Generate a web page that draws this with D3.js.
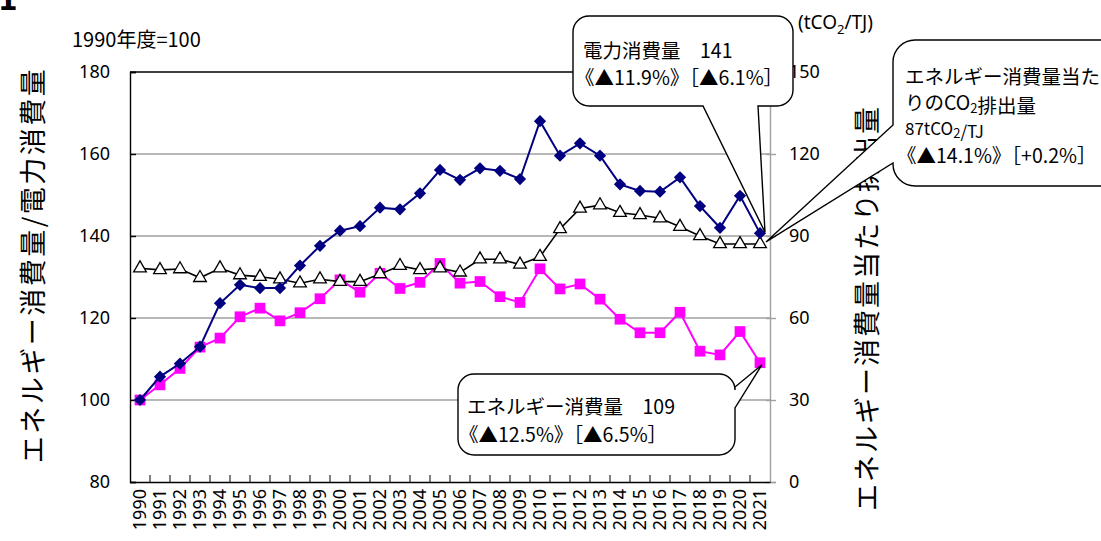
<!DOCTYPE html>
<html>
<head>
<meta charset="utf-8">
<script src="https://cdnjs.cloudflare.com/ajax/libs/d3/7.8.5/d3.min.js"></script>
<style>
  body { margin: 0; background: #fff; }
  svg { display: block; font-family: "Noto Sans CJK JP", "Noto Sans", sans-serif; }
</style>
</head>
<body>
<div id="chart-area"></div>
<script>
// chart values
var years = ["1990","1991","1992","1993","1994","1995","1996","1997","1998","1999",
             "2000","2001","2002","2003","2004","2005","2006","2007","2008","2009",
             "2010","2011","2012","2013","2014","2015","2016","2017","2018","2019",
             "2020","2021"];
var energy = [100, 103.7, 107.7, 112.9, 115.1, 120.3, 122.4, 119.3, 121.3, 124.7,
              129.3, 126.3, 130.9, 127.2, 128.7, 133.3, 128.5, 128.9, 125.2, 123.8,
              132.0, 127.1, 128.3, 124.6, 119.7, 116.4, 116.4, 121.4, 111.9, 111.0,
              116.7, 109.1];
var electricity = [100, 105.7, 108.9, 113.0, 123.6, 128.1, 127.3, 127.3, 132.8, 137.6,
                   141.3, 142.4, 146.9, 146.5, 150.4, 156.1, 153.7, 156.5, 155.9, 153.9,
                   168.0, 159.6, 162.6, 159.6, 152.6, 151.0, 150.8, 154.3, 147.3, 142.0,
                   149.8, 140.7];
var co2PerEnergy = [78.2, 77.6, 77.9, 74.7, 78.2, 75.7, 75.1, 74.2, 72.7, 74.2,
                    73.3, 73.3, 76.1, 79.1, 77.6, 78.2, 76.7, 81.5, 81.5, 79.6,
                    82.4, 92.6, 100.1, 101.3, 98.5, 97.7, 96.5, 93.4, 90.0, 87.1,
                    87.1, 87.1];
var leftTicks = [80, 100, 120, 140, 160, 180];
var rightTicks = [0, 30, 60, 90, 120, 150];

var width = 1101;
var height = 541;
var plotLeft = 130, plotRight = 770, plotTop = 72, plotBottom = 482;

var svg = d3.select("#chart-area")
    .append("svg")
    .attr("width", width)
    .attr("height", height);

var x = d3.scaleBand().domain(years).range([plotLeft, plotRight]);
var yL = d3.scaleLinear().domain([80, 180]).range([plotBottom, plotTop]);
var yR = d3.scaleLinear().domain([0, 150]).range([plotBottom, plotTop]);
var cx = function(i) { return x(years[i]) + x.bandwidth() / 2; };

// cut-off title fragment at the top-left corner
svg.append("text")
    .attr("x", -2).attr("y", 10)
    .style("font-family", "DejaVu Sans").style("font-weight", "bold")
    .style("font-size", "28px")
    .text("1");

// grid lines
svg.append("g").selectAll("line")
    .data(leftTicks.filter(function(d) { return d > 80 && d < 180; }))
    .enter().append("line")
    .attr("x1", plotLeft).attr("x2", plotRight)
    .attr("y1", function(d) { return yL(d); })
    .attr("y2", function(d) { return yL(d); })
    .attr("stroke", "#a0a0a0").attr("stroke-width", 1.4);

// top border
svg.append("line")
    .attr("x1", plotLeft).attr("x2", plotRight)
    .attr("y1", yL(180)).attr("y2", yL(180))
    .attr("stroke", "#000").attr("stroke-width", 1.4);

// right axis (gray)
var rAxis = svg.append("g")
    .attr("transform", "translate(" + plotRight + ",0)")
    .call(d3.axisRight(yR).tickValues(rightTicks).tickSize(6).tickPadding(13));
rAxis.select(".domain").attr("stroke", "#a0a0a0").attr("stroke-width", 1.4);
rAxis.selectAll(".tick line").attr("stroke", "#a0a0a0").attr("stroke-width", 1.4).attr("x1", -4);
rAxis.selectAll("text").style("font-size", "18px").style("font-family", "Noto Sans").attr("fill", "#000");

// left axis
var lAxis = svg.append("g")
    .attr("transform", "translate(" + plotLeft + ",0)")
    .call(d3.axisLeft(yL).tickValues(leftTicks).tickSize(-6).tickPadding(20));
lAxis.select(".domain").attr("stroke", "#000").attr("stroke-width", 1.4);
lAxis.selectAll(".tick line").attr("stroke", "#000").attr("stroke-width", 1.4);
lAxis.selectAll("text").style("font-size", "18px").style("font-family", "Noto Sans").attr("fill", "#000");

// bottom axis with ticks between categories
var bAxis = svg.append("g")
    .attr("transform", "translate(0," + plotBottom + ")")
    .call(d3.axisBottom(x).tickSize(0).tickPadding(8));
bAxis.select(".domain").attr("stroke", "#000").attr("stroke-width", 1.4);
bAxis.selectAll("text")
    .style("font-size", "18px").style("font-family", "Noto Sans").attr("fill", "#000")
    .attr("transform", "rotate(-90)")
    .attr("text-anchor", "end")
    .attr("x", -7).attr("y", 0).attr("dy", "0.35em");
svg.append("g").selectAll("line")
    .data(years.slice(1))
    .enter().append("line")
    .attr("x1", function(d) { return x(d); })
    .attr("x2", function(d) { return x(d); })
    .attr("y1", plotBottom).attr("y2", plotBottom - 7)
    .attr("stroke", "#000").attr("stroke-width", 1);

// series
var lineL = d3.line().x(function(d, i) { return cx(i); }).y(function(d) { return yL(d); });
var lineR = d3.line().x(function(d, i) { return cx(i); }).y(function(d) { return yR(d); });

svg.append("path").datum(energy)
    .attr("d", lineL).attr("fill", "none").attr("stroke", "#ff00ff").attr("stroke-width", 2);
svg.append("g").selectAll("path").data(energy).enter().append("path")
    .attr("d", d3.symbol().type(d3.symbolSquare).size(115))
    .attr("transform", function(d, i) { return "translate(" + cx(i) + "," + yL(d) + ")"; })
    .attr("fill", "#ff00ff");

svg.append("path").datum(co2PerEnergy)
    .attr("d", lineR).attr("fill", "none").attr("stroke", "#000").attr("stroke-width", 1.6);
svg.append("g").selectAll("path").data(co2PerEnergy).enter().append("path")
    .attr("d", d3.symbol().type(d3.symbolTriangle).size(70))
    .attr("transform", function(d, i) { return "translate(" + cx(i) + "," + yR(d) + ")"; })
    .attr("fill", "#fff").attr("stroke", "#000").attr("stroke-width", 1.3);

svg.append("path").datum(electricity)
    .attr("d", lineL).attr("fill", "none").attr("stroke", "#000080").attr("stroke-width", 2);
svg.append("g").selectAll("path").data(electricity).enter().append("path")
    .attr("d", d3.symbol().type(d3.symbolSquare).size(75))
    .attr("transform", function(d, i) { return "translate(" + cx(i) + "," + yL(d) + ") rotate(45)"; })
    .attr("fill", "#000080");

// axis titles and units
svg.append("text")
    .attr("transform", "translate(31,265) rotate(-90)")
    .attr("text-anchor", "middle").attr("dominant-baseline", "central")
    .style("font-size", "27px").style("letter-spacing", "2.5px")
    .text("エネルギー消費量/電力消費量");
svg.append("text")
    .attr("transform", "translate(865,308) rotate(-90)")
    .attr("text-anchor", "middle").attr("dominant-baseline", "central")
    .style("font-size", "27px").style("letter-spacing", "2px")
    .text("エネルギー消費量当たり排出量");
svg.append("text")
    .attr("x", 72).attr("y", 47)
    .style("font-size", "20px")
    .text("1990年度=100");
var unit = svg.append("text")
    .attr("x", 798).attr("y", 29)
    .style("font-size", "19px").style("font-family", "Noto Sans");
unit.append("tspan").text("(tCO");
unit.append("tspan").attr("dy", 5).style("font-size", "13px").text("2");
unit.append("tspan").attr("dy", -5).text("/TJ)");

// callouts
function callout(bx, by, w, h, r, tail) {
    var p = "M" + (bx + r) + "," + by +
        "H" + (bx + w - r) + "A" + r + "," + r + " 0 0 1 " + (bx + w) + "," + (by + r);
    if (tail.side === "right") {
        p += "V" + tail.a + "L" + tail.tx + "," + tail.ty + "L" + (bx + w) + "," + tail.b;
    }
    p += "V" + (by + h - r) + "A" + r + "," + r + " 0 0 1 " + (bx + w - r) + "," + (by + h);
    if (tail.side === "bottom") {
        p += "H" + tail.b + "L" + tail.tx + "," + tail.ty + "L" + tail.a + "," + (by + h);
    }
    p += "H" + (bx + r) + "A" + r + "," + r + " 0 0 1 " + bx + "," + (by + h - r);
    if (tail.side === "left") {
        p += "V" + tail.b + "L" + tail.tx + "," + tail.ty + "L" + bx + "," + tail.a;
    }
    p += "V" + (by + r) + "A" + r + "," + r + " 0 0 1 " + (bx + r) + "," + by + "Z";
    svg.append("path").attr("d", p)
        .attr("fill", "#fff").attr("stroke", "#000").attr("stroke-width", 1.4);
}

var last = years.length - 1;

callout(573, 16, 220, 90, 16,
    { side: "bottom", a: 703, b: 758, tx: cx(last) + 5, ty: yL(electricity[last]) - 1 });
callout(458, 374, 277, 81, 16,
    { side: "right", a: 387, b: 408, tx: cx(last) + 2, ty: yL(energy[last]) + 2 });
callout(893, 40, 260, 146, 22,
    { side: "left", a: 125, b: 163, tx: cx(last) + 6, ty: yR(co2PerEnergy[last]) - 2 });

function lines(x0, rows) {
    rows.forEach(function(r) {
        var t = svg.append("text").attr("x", x0 + (r.dx || 0)).attr("y", r.y)
            .style("font-size", (r.size || 19.5) + "px");
        r.parts.forEach(function(s) {
            if (typeof s === "object") {
                t.append("tspan").attr("dy", 3).style("font-size", "13px").text(s.sub);
                t.append("tspan").attr("dy", -3).text("");
            } else {
                t.append("tspan").text(s);
            }
        });
    });
}

lines(583, [
    { y: 58, parts: ["電力消費量\u3000" + Math.round(electricity[last])] },
    { y: 85, dx: -8, parts: ["《▲11.9%》［▲6.1%］"] }
]);
lines(467, [
    { y: 414, parts: ["エネルギー消費量\u3000" + Math.round(energy[last])] },
    { y: 442, dx: -8, parts: ["《▲12.5%》［▲6.5%］"] }
]);
lines(905, [
    { y: 84, parts: ["エネルギー消費量当た"] },
    { y: 110, parts: ["りのCO", { sub: "2" }, "排出量"] },
    { y: 135, size: 17, parts: [Math.round(co2PerEnergy[last]) + "tCO", { sub: "2" }, "/TJ"] },
    { y: 163, dx: -8, parts: ["《▲14.1%》［+0.2%］"] }
]);
</script>
</body>
</html>
